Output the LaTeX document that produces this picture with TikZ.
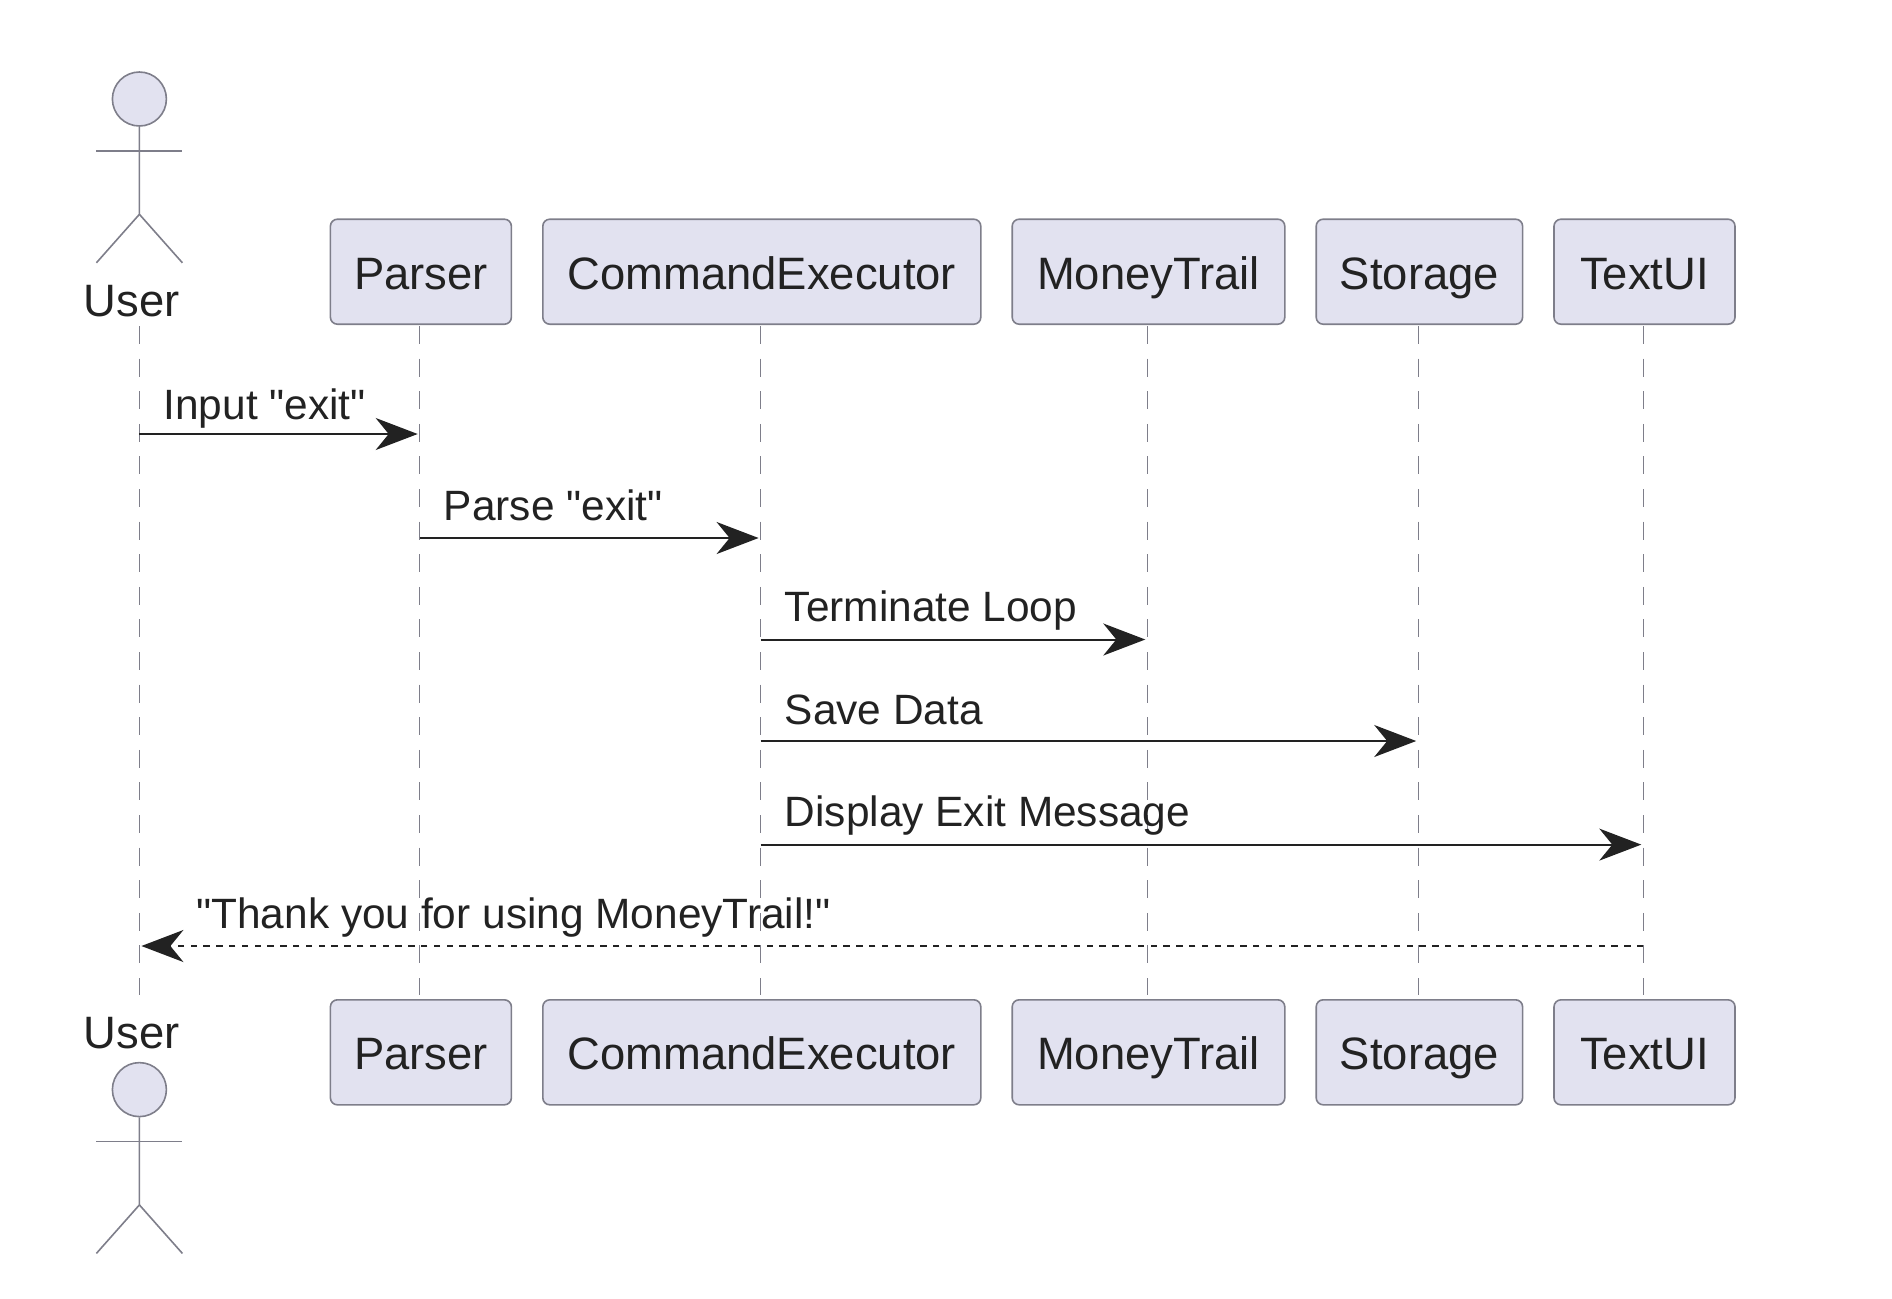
\documentclass[tikz,border=0pt]{standalone}
\usepackage{fontspec}
\setmainfont{Liberation Sans}[Ligatures=TeXOff]
\usetikzlibrary{arrows.meta,positioning}
\definecolor{boxfill}{HTML}{E2E2F0}
\definecolor{boxline}{HTML}{7E7E8A}
\definecolor{inkline}{HTML}{222222}

\begin{document}
\begin{tikzpicture}[
    x=0.5pt,y=-0.5pt,
    node distance=14.9pt,
    actorbox/.style={rectangle,draw=boxline,fill=boxfill,line width=0.8pt,rounded corners=3.5pt,inner xsep=8pt,inner ysep=12pt,text height=23pt,text depth=5.5pt,text=inkline,font=\fontsize{22.7pt}{26pt}\selectfont},
    actorhead/.style={circle,draw=boxline,fill=boxfill,line width=0.8pt,minimum size=27pt,inner sep=0pt},
    actorline/.style={draw=boxline,line width=0.8pt},
    actorname/.style={anchor=base,inner sep=0pt,text=inkline,font=\fontsize{22.7pt}{26pt}\selectfont},
    lifeline/.style={draw=boxline,line width=0.7pt,dash pattern=on 9pt off 7.3pt},
    msg/.style={-{Stealth[length=21pt,width=16pt,inset=6.5pt]},draw=inkline,line width=1pt,shorten >=1pt},
    reply/.style={msg,dash pattern=on 3.2pt off 3.2pt},
    msgtext/.style={anchor=base west,inner sep=0pt,xshift=11.6pt,yshift=9pt,text=inkline,font=\fontsize{21.2pt}{25pt}\selectfont}
]
\useasboundingbox (0,0) rectangle (1892,1298);

% Top row
\node[actorbox,minimum width=90.5pt,anchor=north west] (parser) at (329.6,218.4) {Parser};
\node[actorbox,minimum width=219pt,right=of parser] (executor) {CommandExecutor};
\node[actorbox,minimum width=136.3pt,right=of executor] (trail) {MoneyTrail};
\node[actorbox,minimum width=103.2pt,right=of trail] (storage) {Storage};
\node[actorbox,minimum width=90.5pt,right=of storage] (textui) {TextUI};

% Bottom row
\node[actorbox,minimum width=90.5pt,below=337pt of parser] (parser2) {Parser};
\node[actorbox,minimum width=219pt,below=337pt of executor] (executor2) {CommandExecutor};
\node[actorbox,minimum width=136.3pt,below=337pt of trail] (trail2) {MoneyTrail};
\node[actorbox,minimum width=103.2pt,below=337pt of storage] (storage2) {Storage};
\node[actorbox,minimum width=90.5pt,below=337pt of textui] (textui2) {TextUI};

% Actors
\foreach \n/\y in {userhead/99,userhead2/1089.6}{
    \node[actorhead] (\n) at (139.4,\y) {};
    \draw[actorline] (\n.south) -- ++(0,87.5) coordinate (\n hip) -- ++(-43,48.5);
    \draw[actorline] (\n hip) -- ++(43,48.5);
    \draw[actorline] ([yshift=-12pt]\n.south) ++(-43,0) -- ++(86,0);
}
\node[actorname] (user) at (131.5,316) {User};
\node[actorname] (user2) at (131.5,1048) {User};

% Lifelines
\coordinate (userL) at (139.4,326);
\foreach \n in {parser,executor,trail,storage,textui}
    \coordinate (\n L) at ([xshift=-0.6pt]\n.south);
\foreach \n in {user,parser,executor,trail,storage,textui}
    \draw[lifeline] (\n L |- 0,326) -- (\n L |- 0,995);

% Messages
\draw[msg] (userL |- 0,434) -- (parserL |- 0,434) node[msgtext,pos=0,yshift=-1.8pt] (m1) {Input "exit"};
\draw[msg] (parserL |- 0,538) -- (executorL |- 0,538) node[msgtext,pos=0] (m2) {Parse "exit"};
\draw[msg] (executorL |- 0,639.5) -- (trailL |- 0,639.5) node[msgtext,pos=0] (m3) {Terminate Loop};
\draw[msg] (executorL |- 0,741) -- (storageL |- 0,741) node[msgtext,pos=0,yshift=-0.6pt] (m4) {Save Data};
\draw[msg] (executorL |- 0,844.6) -- (textuiL |- 0,844.6) node[msgtext,pos=0] (m5) {Display Exit Message};
\draw[reply] (textuiL |- 0,946) -- (userL |- 0,946) node[msgtext,pos=1,xshift=16.4pt] (m6) {"Thank you for using MoneyTrail!"};

\end{tikzpicture}
\end{document}
